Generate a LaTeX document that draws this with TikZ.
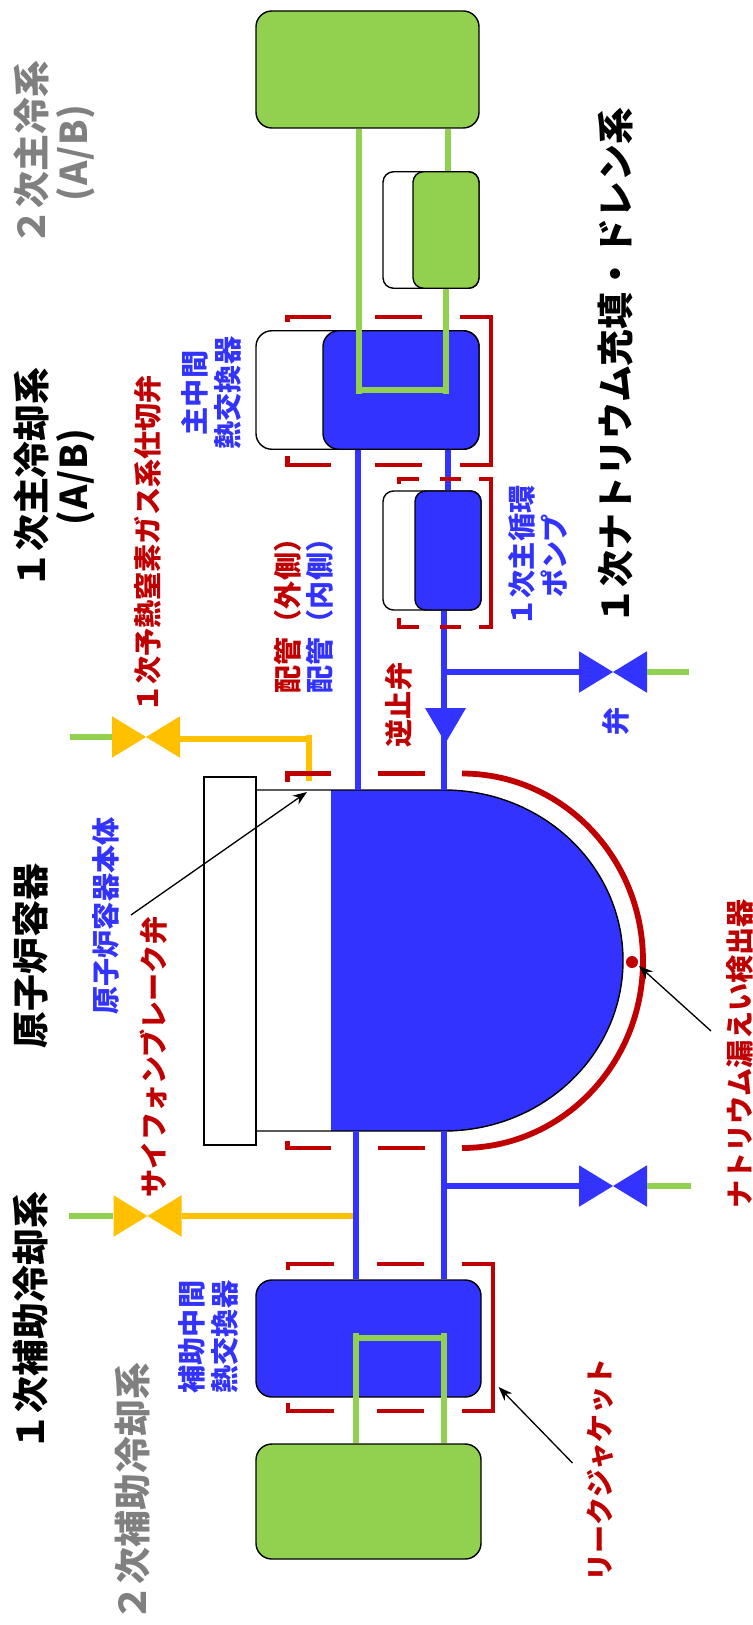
\documentclass[tikz,border=0pt]{standalone}
\usepackage{fontspec}
\newfontfamily\cjk{Noto Sans CJK JP}
\usepackage{tikz}
\usetikzlibrary{arrows.meta}
\definecolor{pipeblue}{HTML}{3333FF}
\definecolor{pipegreen}{HTML}{92D050}
\definecolor{jacketred}{HTML}{C00000}
\definecolor{pipeyellow}{HTML}{FFC000}
\newcommand{\halfch}[1]{\makebox[11.6pt]{#1}}
\tikzset{
	sized/.style 2 args={minimum width=#1*0.02cm,minimum height=#2*0.02cm},
	box/.style={shape=rectangle,draw=black,line width=0.8pt,rounded corners=9pt,inner sep=0pt},
	smallbox/.style={box,rounded corners=6pt},
	greenpipe/.style={draw=pipegreen,line width=3.3pt},
	bluepipe/.style={draw=pipeblue,line width=3.5pt},
	yellowpipe/.style={draw=pipeyellow,line width=3.3pt},
	redline/.style={draw=jacketred,line width=2.8pt},
	pointer/.style={draw=black,line width=0.75pt,-{Stealth[length=8pt,width=6pt]}},
	valve/.style={shape=rectangle,inner sep=0pt,sized={68}{41.5},
		path picture={\fill[#1] (path picture bounding box.north west) -- (path picture bounding box.south west) -- (path picture bounding box.north east) -- (path picture bounding box.south east) -- cycle;}},
	checkvalve/.style={shape=rectangle,inner sep=0pt,sized={41}{35},
		path picture={\fill[pipeblue] (path picture bounding box.north west) -- (path picture bounding box.north east) -- (path picture bounding box.south) -- cycle;}},
	bigtext/.style={rotate=90,inner sep=0pt,font=\cjk\bfseries\fontsize{21}{24}\selectfont},
	smalltext/.style={rotate=90,inner sep=0pt,align=center,font=\cjk\bfseries\fontsize{16}{18.7}\selectfont},
}
\begin{document}
\begin{tikzpicture}[x=0.02cm,y=-0.02cm]
	\useasboundingbox (0,0) rectangle (753,1625);
	% boxes
	\node(green1) [box,sized={223}{117},fill=pipegreen] at (367.5,69.5) {};
	\node(white1) [smallbox,sized={96}{116.5},fill=white] at (431,230) {};
	\node(green2) [smallbox,sized={66}{116.5},fill=pipegreen] at (446,230) {};
	\node(white2) [box,sized={223}{118.5},fill=white] at (367.5,390) {};
	\node(ihx) [box,sized={156}{118.5},fill=pipeblue] at (401,390) {};
	\node(white3) [smallbox,sized={98}{119},fill=white] at (432,550.5) {};
	\node(pump) [smallbox,sized={66}{119},fill=pipeblue] at (448,550.5) {};
	\node(flange) [shape=rectangle,draw=black,line width=0.8pt,inner sep=0pt,sized={52}{368}] at (230,961) {};
	\node(auxihx) [box,sized={225}{117},fill=pipeblue] at (368.5,1338.5) {};
	\node(green3) [box,sized={225}{115},fill=pipegreen] at (368.5,1501.5) {};
	% vessel
	\fill[pipeblue] (331,790) -- (444,790) arc[start angle=-90,end angle=90,x radius=179,y radius=170.5] -- (331,1131) -- cycle;
	\draw[line width=0.8pt] (256,790) -- (444,790) arc[start angle=-90,end angle=90,x radius=179,y radius=170.5] -- (256,1131);
	\draw[redline,line width=3.3pt] (462,773.5) arc[start angle=-90,end angle=90,x radius=181,y radius=187.25];
	\node(detector) [shape=circle,fill=jacketred,inner sep=0pt,sized={12}{12}] at (632,962) {};
	% points on the pipes
	\coordinate (u1) at (359,394);
	\coordinate (u2) at (446,394);
	\coordinate (u3) at (356,1333);
	\coordinate (u4) at (444,1333);
	\coordinate (g2in) at (448,171.5);
	\coordinate (vtop1) at (358,790);
	\coordinate (vtop2) at (444,790);
	\coordinate (vbot1) at (356,1131);
	\coordinate (vbot2) at (444,1131);
	\coordinate (tee1) at (444,672);
	\coordinate (tee2) at (444,1186);
	\coordinate (tee3) at (309,739);
	\coordinate (tee4) at (309,781);
	\coordinate (tee5) at (353,1216);
	\coordinate (end1) at (689,672);
	\coordinate (end2) at (691,1186);
	\coordinate (end3) at (70,737);
	\coordinate (end4) at (69,1216);
	% valves
	\node(valve1) [valve=pipeblue] at (613,672) {};
	\node(valve2) [valve=pipeblue] at (613,1186) {};
	\node(valve3) [valve=pipeyellow] at (146,737) {};
	\node(valve4) [valve=pipeyellow] at (147.5,1216) {};
	\node(check) [checkvalve] at (445.5,725.5) {};
	% blue pipes
	\draw[bluepipe] (ihx.south -| vtop1) -- (vtop1);
	\draw[bluepipe] (ihx.south -| pump) -- (pump.north);
	\draw[bluepipe] (pump.south -| vtop2) -- (vtop2);
	\draw[bluepipe] (tee1) -- (valve1.west);
	\draw[bluepipe] (vbot1) -- (auxihx.north -| vbot1);
	\draw[bluepipe] (vbot2) -- (auxihx.north -| vbot2);
	\draw[bluepipe] (tee2) -- (valve2.west);
	% green pipes
	\draw[greenpipe] (green1.south -| u1) -- (u1);
	\draw[greenpipe] (green1.south -| g2in) -- (g2in);
	\draw[greenpipe] (green2.south) -- (u2);
	\draw[greenpipe,line width=3pt] (359,390) -- (446,390);
	\draw[greenpipe] (green3.north -| u3) -- (u3);
	\draw[greenpipe] (green3.north -| u4) -- (u4);
	\draw[greenpipe,line width=3pt] (356,1338) -- (444,1338);
	\draw[greenpipe] (valve1.east) -- (end1);
	\draw[greenpipe] (valve2.east) -- (end2);
	\draw[greenpipe] (valve3.west) -- (end3);
	\draw[greenpipe] (valve4.west) -- (end4);
	% yellow pipes
	\draw[yellowpipe] (valve3.east |- tee3) -- (tee3);
	\draw[yellowpipe] (309,735) -- (tee4);
	\draw[yellowpipe] (valve4.east) -- (tee5);
	% leak jackets
	\draw[redline] (287.5,322) -- (287.5,317) -- (331,317);
	\draw[redline] (375,317) -- (422,317);
	\draw[redline] (460,317) -- (491,317) -- (491,465) -- (460,465);
	\draw[redline] (375,465) -- (422,465);
	\draw[redline] (287.5,456) -- (287.5,465) -- (331,465);
	\draw[redline] (399,484) -- (399,479) -- (419,479);
	\draw[redline] (440,479) -- (461,479);
	\draw[redline] (479,479) -- (491,479) -- (491,627) -- (479,627);
	\draw[redline] (440,627) -- (461,627);
	\draw[redline] (399,618) -- (399,627) -- (419,627);
	\draw[redline] (287.5,782) -- (287.5,773.5) -- (331,773.5);
	\draw[redline] (378,773.5) -- (425,773.5);
	\draw[redline] (287.5,1141) -- (287.5,1148) -- (331,1148);
	\draw[redline] (378,1148) -- (425,1148);
	\draw[redline] (288,1270) -- (288,1264) -- (334,1264);
	\draw[redline] (376.5,1264) -- (424,1264);
	\draw[redline] (461.5,1264) -- (493,1264) -- (493,1411) -- (461.5,1411);
	\draw[redline] (376.5,1411) -- (424,1411);
	\draw[redline] (288,1403) -- (288,1411) -- (334,1411);
	% labels
	\node(sec) [bigtext,text=gray] at (31,153) {２次主冷系};
	\node(secab) [bigtext,text=gray] at (76,153) {\halfch{(}\halfch{A}\halfch{/}\halfch{B}\halfch{)}};
	\node(pri) [bigtext] at (31,478) {１次主冷却系};
	\node(priab) [bigtext] at (76,477) {\halfch{(}\halfch{A}\halfch{/}\halfch{B}\halfch{)}};
	\node(rv) [bigtext] at (31,956) {原子炉容器};
	\node(auxpri) [bigtext] at (31,1321) {１次補助冷却系};
	\node(auxsec) [bigtext,text=gray] at (133,1492) {２次補助冷却系};
	\node(fill) [bigtext] at (616,366) {１次ナトリウム充填・ドレン系};
	\node(gasvalve) [smalltext,text=jacketred] at (148,544) {１次予熱窒素ガス系仕切弁};
	\node(ihxlabel) [smalltext,text=pipeblue] at (211,393) {主中間\\熱交換器};
	\node(pumplabel) [smalltext,text=pipeblue] at (538,556) {１次主循環\\ポンプ};
	\node(outer) [smalltext,text=jacketred] at (287.5,609) {配管（外側）};
	\node(inner) [smalltext,text=pipeblue] at (320,609) {配管（内側）};
	\node(checklabel) [smalltext,text=jacketred] at (399,705) {逆止弁};
	\node(valvelabel) [smalltext,text=pipeblue] at (616,721) {弁};
	\node(body) [smalltext,text=pipeblue] at (106,916) {原子炉容器本体};
	\node(siphon) [smalltext,text=jacketred] at (154,1057) {サイフォンブレーク弁};
	\node(naleak) [smalltext,text=jacketred] at (740,1054) {ナトリウム漏えい検出器};
	\node(jacket) [smalltext,text=jacketred] at (600,1470) {リークジャケット};
	\node(auxlabel) [smalltext,text=pipeblue] at (208,1337) {補助中間\\熱交換器};
	% pointers
	\coordinate (p1) at (131,915);
	\coordinate (p2) at (307,792);
	\coordinate (p3) at (711,1031);
	\coordinate (p4) at (639,966);
	\coordinate (p5) at (572.5,1463);
	\coordinate (p6) at (498.6,1387);
	\draw[pointer] (p1) -- (p2);
	\draw[pointer] (p3) -- (p4);
	\draw[pointer] (p5) -- (p6);
\end{tikzpicture}
\end{document}
